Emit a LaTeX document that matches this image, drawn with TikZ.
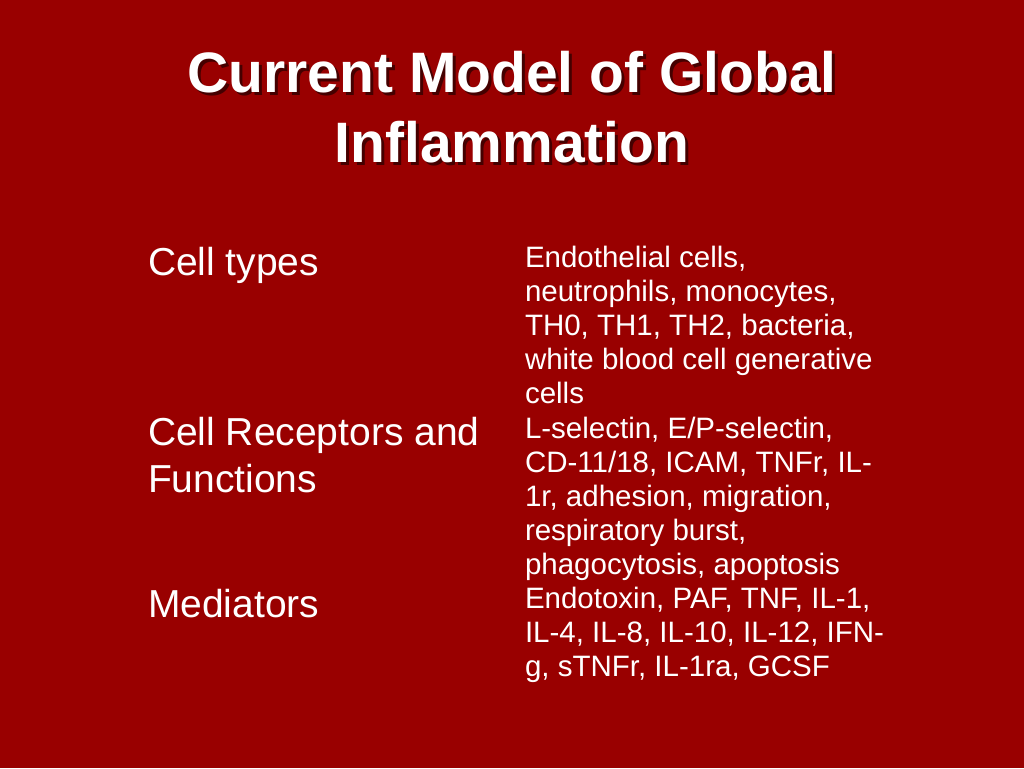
\documentclass[tikz,border=0pt]{standalone}
\usepackage{fontspec}
\setmainfont{Liberation Sans}
\definecolor{slidebg}{RGB}{153,0,0}
\begin{document}
\begin{tikzpicture}[x=1pt,y=-1pt,
  base/.style={inner sep=0pt, outer sep=0pt},
  titletext/.style={base, anchor=base, text=white, font=\fontsize{57}{68}\selectfont\bfseries},
  titleshadow/.style={titletext, text=black, text opacity=0.55},
  label/.style={base, anchor=base west, text=white, font=\fontsize{39}{47}\selectfont},
  item/.style={base, anchor=base west, text=white, font=\fontsize{29.5}{34}\selectfont}]
\fill[slidebg] (0,0) rectangle (1024,768);
\useasboundingbox (0,0) rectangle (1024,768);
% title
\node[titleshadow] (t1s) at (515,95) {Current Model of Global};
\node[titleshadow] (t2s) at (515,165) {Inflammation};
\node[titletext] (t1) at (512,92) {Current Model of Global};
\node[titletext] (t2) at (512,162) {Inflammation};
% left column
\node[label] (l1) at (148,275) {Cell types};
\node[label] (l2) at (148,445) {Cell Receptors and};
\node[label] (l3) at (148,492) {Functions};
\node[label] (l4) at (148,617) {Mediators};
% right column
\foreach \t [count=\i from 0] in {
  {Endothelial cells,},
  {neutrophils, monocytes,},
  {TH0, TH1, TH2, bacteria,},
  {white blood cell generative},
  {cells},
  {L-selectin, E/P-selectin,},
  {CD-11/18, ICAM, TNFr, IL-},
  {1r, adhesion, migration,},
  {respiratory burst,},
  {phagocytosis, apoptosis},
  {Endotoxin, PAF, TNF, IL-1,},
  {IL-4, IL-8, IL-10, IL-12, IFN-},
  {g, sTNFr, IL-1ra, GCSF}}
  \node[item] (r\i) at (525,{267.5+34.1*\i}) {\t};
\end{tikzpicture}
\end{document}
